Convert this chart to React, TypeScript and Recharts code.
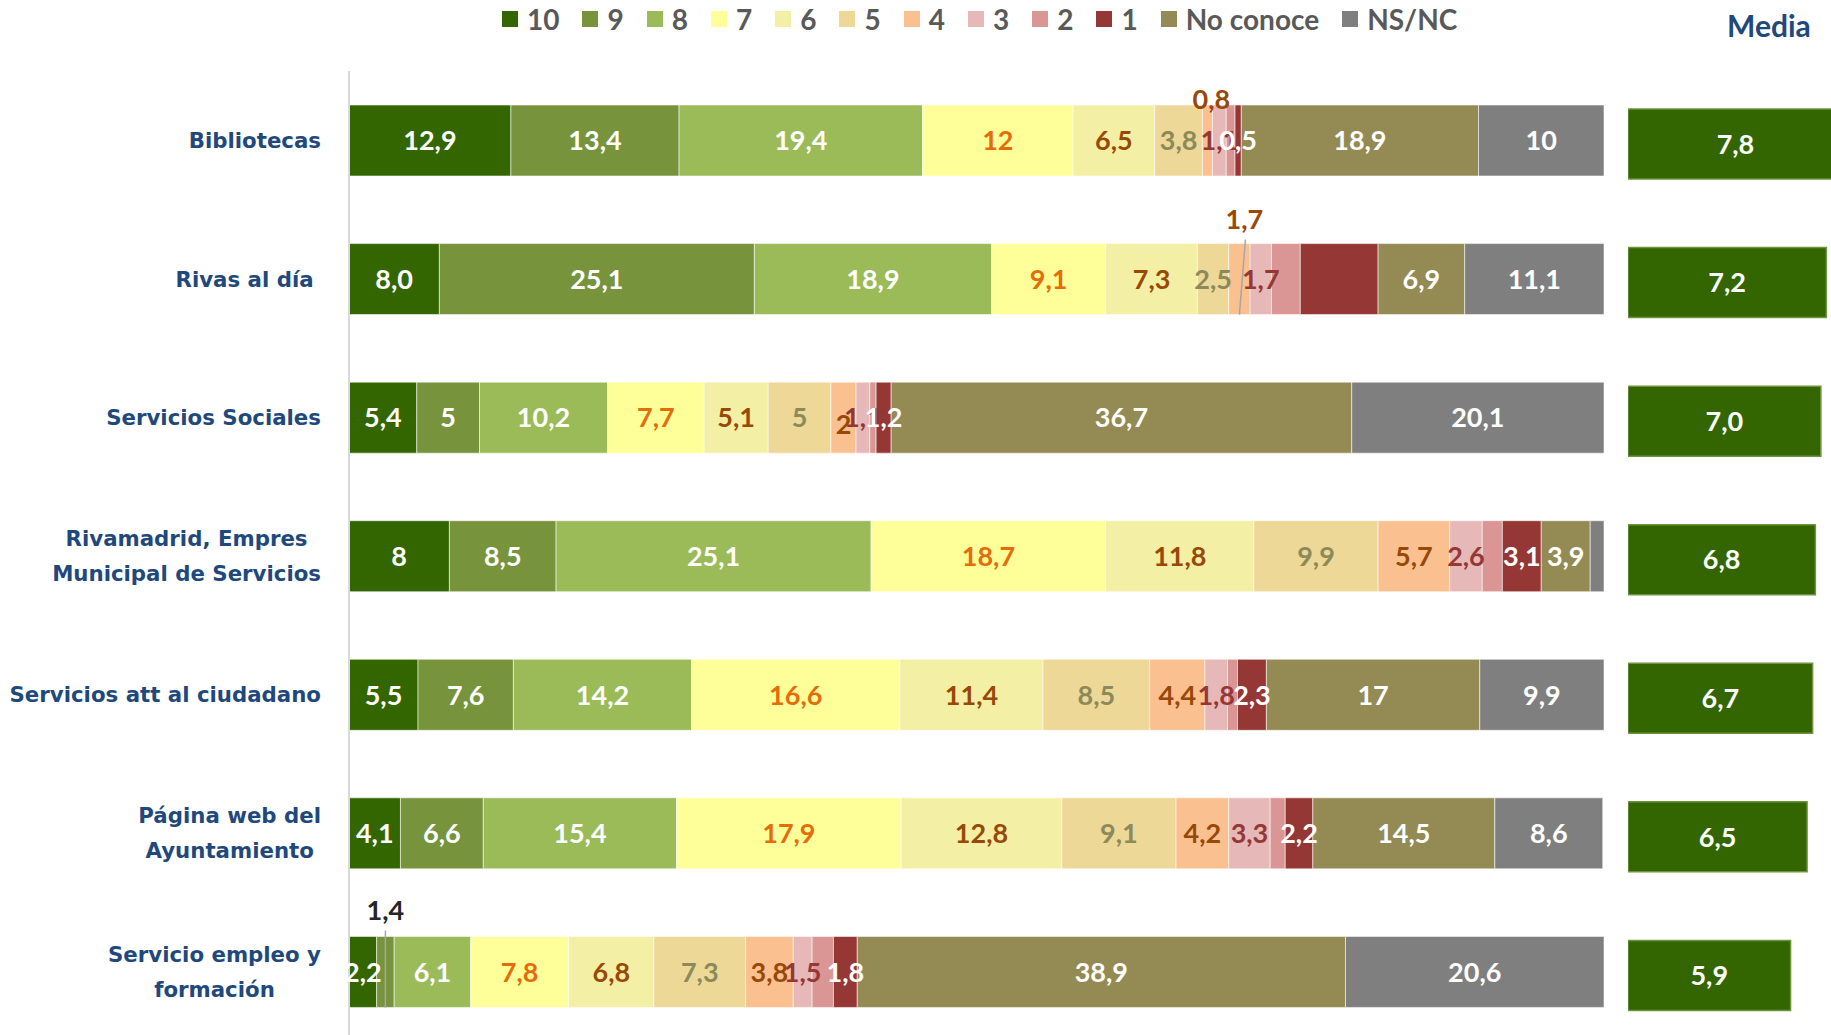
import React from 'react';
import { BarChart, Bar, XAxis, YAxis, LabelList, Legend } from 'recharts';

const services = [
  'Bibliotecas',
  'Rivas al día\u00A0',
  'Servicios Sociales',
  'Rivamadrid, Empres\nMunicipal de Servicios',
  'Servicios att al ciudadano',
  'Página web del\nAyuntamiento',
  'Servicio empleo y\nformación',
];

const ratingNames = ['10', '9', '8', '7', '6', '5', '4', '3', '2', '1', 'No conoce', 'NS/NC'];
const ratingKeys = ['r10', 'r9', 'r8', 'r7', 'r6', 'r5', 'r4', 'r3', 'r2', 'r1', 'noConoce', 'nsnc'];
const ratingColors = ['#346600', '#77933C', '#9BBB59', '#FFFF99', '#F3EFA5', '#EDD897', '#FAC090', '#E6B9B8', '#D99694', '#953735', '#948A54', '#7F7F7F'];
const labelColors = ['#fff', '#fff', '#fff', '#E46C0A', '#984807', '#8C8A5A', '#984807', '#953735', '#953735', '#fff', '#fff', '#fff'];

// % per rating, same order as ratingNames
const bibliotecas = [12.9, 13.4, 19.4, 12, 6.5, 3.8, 0.8, 1.1, 0.7, 0.5, 18.9, 10];
const rivasAlDia = [7.2, 25.1, 18.9, 9.1, 7.3, 2.5, 1.7, 1.7, 2.3, 6.2, 6.9, 11.1];
const serviciosSociales = [5.4, 5, 10.2, 7.7, 5.1, 5, 2, 1.1, 0.5, 1.2, 36.7, 20.1];
const rivamadrid = [8, 8.5, 25.1, 18.7, 11.8, 9.9, 5.7, 2.6, 1.6, 3.1, 3.9, 1.1];
const atencionCiudadano = [5.5, 7.6, 14.2, 16.6, 11.4, 8.5, 4.4, 1.8, 0.8, 2.3, 17, 9.9];
const paginaWeb = [4.1, 6.6, 15.4, 17.9, 12.8, 9.1, 4.2, 3.3, 1.2, 2.2, 14.5, 8.6];
const empleo = [2.2, 1.4, 6.1, 7.8, 6.8, 7.3, 3.8, 1.5, 1.7, 1.9, 38.9, 20.6];

const media = [7.8, 7.2, 7.0, 6.8, 6.7, 6.5, 5.9];

const rows = [bibliotecas, rivasAlDia, serviciosSociales, rivamadrid, atencionCiudadano, paginaWeb, empleo];

// label text that differs from the bar value, and labels left out
const labelOverrides: Record<string, string> = { '1-0': '8,0', '6-9': '1,8' };
const hiddenLabels = ['1-9', '3-11'];
const hiddenColumn = 8; // rating "2" never labelled

const data = services.map((name, i) => {
  const row: any = { name, media: media[i] };
  ratingKeys.forEach((k, j) => (row[k] = rows[i][j]));
  return row;
});

const fmt = (v: number) => (Number.isInteger(v) ? String(v) : v.toFixed(1).replace('.', ','));

const LABEL_FONT = 'Lato, "Open Sans", sans-serif';

let ctx: CanvasRenderingContext2D | null = null;
function textWidth(t: string, font: string) {
  if (!ctx) ctx = document.createElement('canvas').getContext('2d');
  if (!ctx) return t.length * 12;
  ctx.font = font;
  return ctx.measureText(t).width;
}

function makeSegmentLabel(col: number) {
  return (p: any) => {
    const vb = p.viewBox ?? p;
    const { x, y, width, height } = vb;
    const row = p.index;
    const key = `${row}-${col}`;
    if (col === hiddenColumn || hiddenLabels.includes(key)) return null;
    const text = labelOverrides[key] ?? fmt(rows[row][col]);
    const segX = x + width / 2;
    let cx = segX;
    let cy = y + height / 2;
    let fill = labelColors[col];
    let leader: React.ReactNode = null;
    if (key === '0-6') {
      cx += 4;
      cy = y - 6;
    } else if (key === '1-6') {
      cx += 5;
      cy = y - 24;
      leader = <line x1={segX + 6} y1={y - 4} x2={segX} y2={y + height} stroke="#A6A6A6" strokeWidth={1.5} />;
    } else if (key === '6-1') {
      cy = y - 26;
      fill = '#262626';
      leader = <line x1={segX} y1={y - 6} x2={segX} y2={y + height} stroke="#A6A6A6" strokeWidth={1.5} />;
    } else if (key === '2-6') {
      cy += 7;
    }
    return (
      <g>
        {leader}
        <text x={cx} y={cy} dy="0.36em" textAnchor="middle" fill={fill} fontFamily={LABEL_FONT} fontWeight={700} fontSize={27}>
          {text}
        </text>
      </g>
    );
  };
}

function MediaLabel(p: any) {
  const vb = p.viewBox ?? p;
  const { x, y, width, height } = vb;
  return (
    <text x={x + width / 2} y={y + height / 2} dy="0.36em" textAnchor="middle" fill="#fff" fontFamily={LABEL_FONT} fontWeight={700} fontSize={27}>
      {Number(p.value).toFixed(1).replace('.', ',')}
    </text>
  );
}

function ServiceTick(p: any) {
  const { x, y, payload } = p;
  const lines = String(payload.value).split('\n');
  const size = 21.3;
  const font = `bold ${size}px "DejaVu Sans"`;
  const common = { fill: '#1F497D', fontFamily: '"DejaVu Sans", Verdana, sans-serif', fontWeight: 700, fontSize: size };
  if (lines.length === 1) {
    return (
      <text x={x} y={y} dy="0.36em" textAnchor="end" {...common}>
        {lines[0]}
      </text>
    );
  }
  const lh = 35;
  const w = Math.max(...lines.map((l) => textWidth(l, font)));
  const cx = x - w / 2;
  const y0 = y - ((lines.length - 1) * lh) / 2;
  return (
    <text {...common}>
      {lines.map((l, i) => (
        <tspan key={i} x={cx} y={y0 + i * lh} dy="0.36em" textAnchor="middle">
          {l}
        </tspan>
      ))}
    </text>
  );
}

const renderLegend = () => (
  <div style={{ display: 'flex', alignItems: 'center', fontFamily: LABEL_FONT, fontWeight: 700, fontSize: 28, color: '#595959', whiteSpace: 'nowrap' }}>
    {ratingNames.map((n, j) => (
      <span key={n} style={{ display: 'flex', alignItems: 'center', marginRight: 23 }}>
        <span style={{ display: 'inline-block', width: 16, height: 16, background: ratingColors[j], marginRight: 9 }} />
        {n}
      </span>
    ))}
  </div>
);

export default function App() {
  return (
    <div style={{ position: 'absolute', left: 0, top: 0, width: 1831, height: 1035, overflow: 'hidden', background: '#fff' }}>
      <div style={{ position: 'absolute', left: 0, top: 0 }}>
        <BarChart width={1610} height={1041} data={data} layout="vertical" margin={{ top: 71, right: 6, bottom: 0, left: 0 }} barSize={71}>
          <XAxis type="number" domain={[0, 100]} hide />
          <YAxis
            type="category"
            dataKey="name"
            width={349}
            axisLine={{ stroke: '#D9D9D9', strokeWidth: 2 }}
            tickLine={false}
            tickSize={0}
            tickMargin={28}
            tick={<ServiceTick />}
            interval={0}
          />
          <Legend layout="horizontal" verticalAlign="middle" align="center" content={renderLegend} wrapperStyle={{ top: 2, left: 502, width: 1050 }} />
          {ratingKeys.map((k, j) => (
            <Bar key={k} dataKey={k} name={ratingNames[j]} stackId="s" fill={ratingColors[j]} stroke="#ffffff" strokeOpacity={0.55} strokeWidth={1} isAnimationActive={false}>
              <LabelList dataKey={k} content={makeSegmentLabel(j)} />
            </Bar>
          ))}
        </BarChart>
      </div>
      <div style={{ position: 'absolute', left: 1600, top: 0 }}>
        <BarChart width={260} height={1045} data={data} layout="vertical" margin={{ top: 75, right: 0, bottom: 0, left: 28 }} barSize={70}>
          <XAxis type="number" domain={[0, 8.42]} hide allowDataOverflow />
          <YAxis type="category" dataKey="name" hide />
          <Bar dataKey="media" name="Media" fill="#336600" stroke="#6E9440" strokeWidth={1.5} isAnimationActive={false}>
            <LabelList dataKey="media" content={MediaLabel} />
          </Bar>
        </BarChart>
      </div>
      <div style={{ position: 'absolute', left: 1727, top: 7, fontFamily: LABEL_FONT, fontWeight: 700, fontSize: 30, color: '#1F497D' }}>Media</div>
    </div>
  );
}
